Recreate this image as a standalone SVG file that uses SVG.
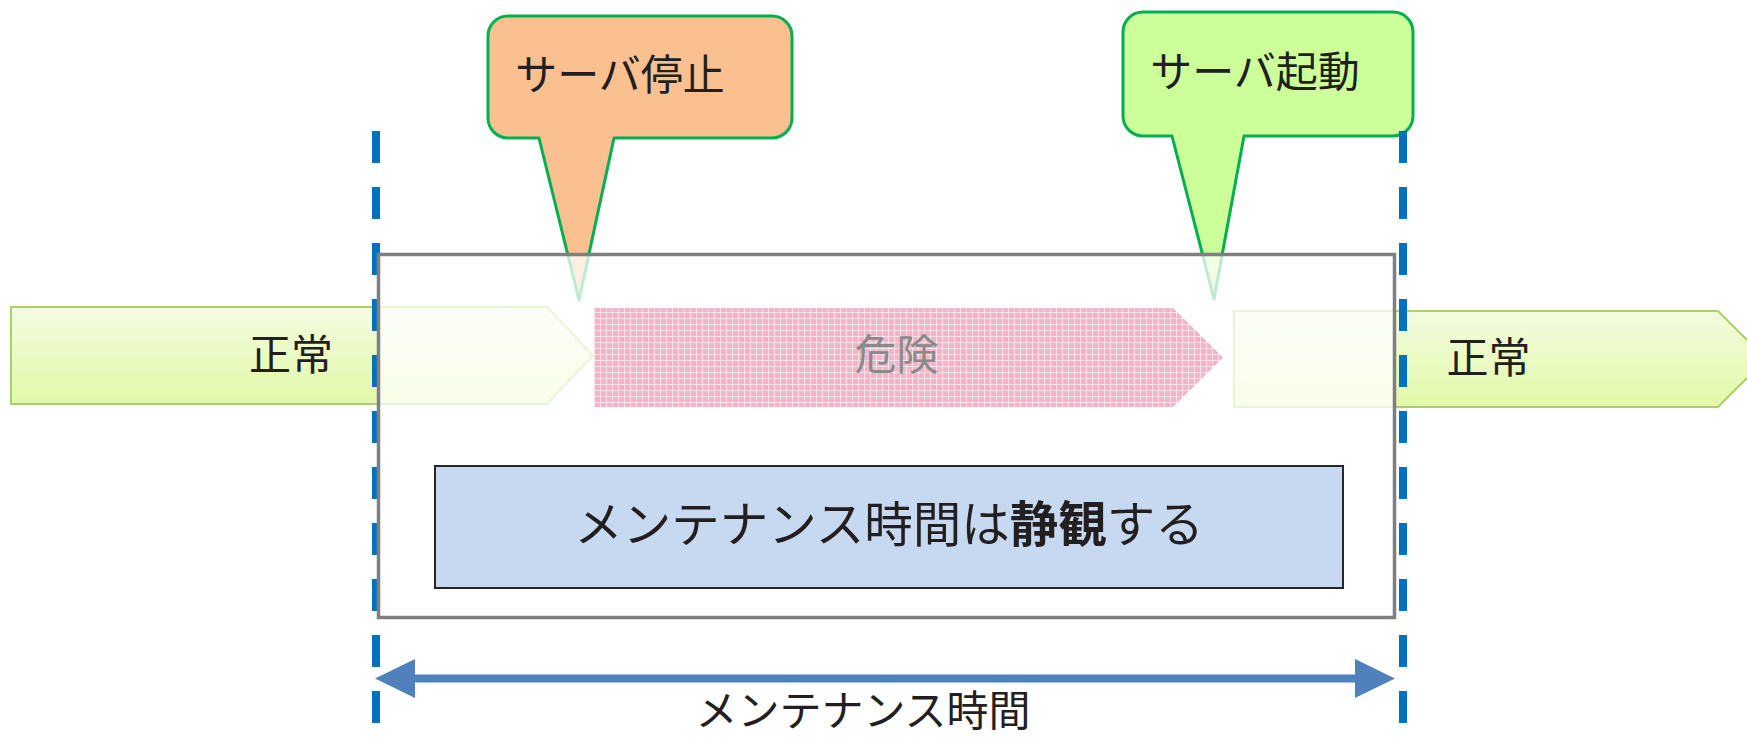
<svg xmlns="http://www.w3.org/2000/svg" width="1747" height="737" viewBox="0 0 1747 737">
<style>
text{font-family:"Noto Sans CJK JP","Noto Sans",sans-serif;fill:#231F20;dominant-baseline:central;text-anchor:middle}
.lbl{font-size:42px}
.normal{fill:url(#gGreen);stroke:#A8D266;stroke-width:2}
.callout{stroke:#00B050;stroke-width:3;stroke-linejoin:round}
.dash{stroke:#0070C0;stroke-width:8;stroke-dasharray:32 24;fill:none}
</style>
<defs>
<linearGradient id="gGreen" x1="0" y1="0" x2="0" y2="1">
<stop offset="0" stop-color="#F3FCDF"/>
<stop offset="1" stop-color="#E1F9A8"/>
</linearGradient>
<pattern id="pPink" width="6" height="6" patternUnits="userSpaceOnUse">
<rect width="6" height="6" fill="#F6B3C8"/>
<path d="M0,0.5H6M0.5,0V6" stroke="#FFFFFF" stroke-width="1" opacity="0.6"/>
</pattern>
<marker id="mHead" markerUnits="userSpaceOnUse" markerWidth="40" markerHeight="39" refX="0" refY="19.5" orient="auto-start-reverse">
<path d="M0,0L40,19.5L0,39z" fill="#4F81BD"/>
</marker>
</defs>

<g id="normal-left">
<path class="normal" d="M11,307H547L593,355.5L547,404H11Z"/>
<text class="lbl" x="291" y="351">正常</text>
</g>
<g id="normal-right">
<path class="normal" d="M1234,311H1718L1766,359L1718,407H1234Z"/>
<text class="lbl" x="1488.5" y="354">正常</text>
</g>

<g id="callout-stop">
<path class="callout" fill="#FAC090" d="M508,16H772A20,20 0 0 1 792,36V118A20,20 0 0 1 772,138H614L579,300L539,138H508A20,20 0 0 1 488,118V36A20,20 0 0 1 508,16Z"/>
<text class="lbl" x="620" y="71">サーバ停止</text>
</g>
<g id="callout-start">
<path class="callout" fill="#CCFF99" d="M1143,12H1393A20,20 0 0 1 1413,32V116A20,20 0 0 1 1393,136H1244L1214,299L1172,136H1143A20,20 0 0 1 1123,116V32A20,20 0 0 1 1143,12Z"/>
<text class="lbl" x="1255" y="68.5">サーバ起動</text>
</g>

<g id="connectors">
<line class="dash" x1="376" y1="131" x2="376" y2="724"/>
<line class="dash" x1="1403" y1="131" x2="1403" y2="724"/>
<line x1="415" y1="678.5" x2="1355" y2="678.5" stroke="#4F81BD" stroke-width="8" marker-start="url(#mHead)" marker-end="url(#mHead)"/>
</g>

<g id="maintenance-frame">
<rect x="378.5" y="254.5" width="1016" height="363" fill="#FFFFFF" fill-opacity="0.74" stroke="#7F7F7F" stroke-width="3.5"/>
</g>

<g id="danger">
<path d="M594,308H1173L1223,357.5L1173,407H594Z" fill="url(#pPink)"/>
<text class="lbl" x="896.5" y="351" style="fill:#8A8A8A">危険</text>
</g>

<g id="note">
<rect x="435" y="466" width="908" height="122" fill="#C6D9F0" stroke="#262626" stroke-width="2"/>
<text x="889" y="521" font-size="48.5">メンテナンス時間は<tspan font-weight="bold">静観</tspan>する</text>
</g>

<g id="duration-label">
<text class="lbl" x="863" y="707">メンテナンス時間</text>
</g>
</svg>
